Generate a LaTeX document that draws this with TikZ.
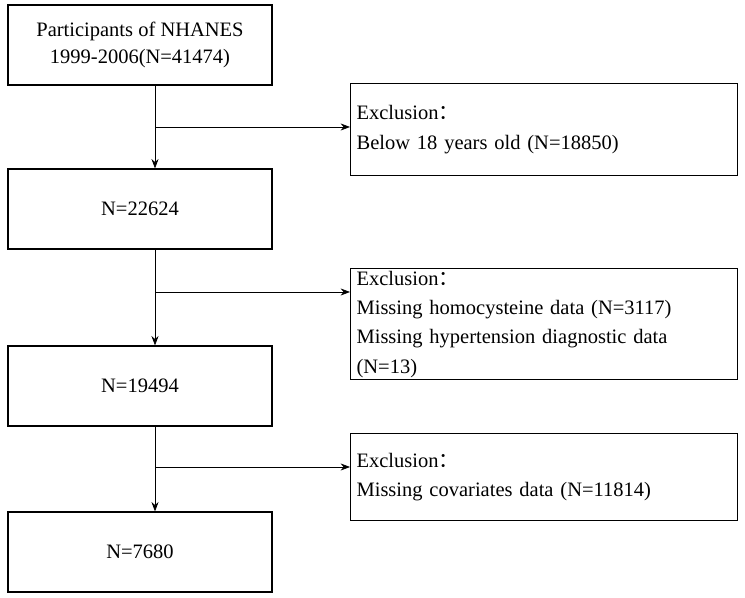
\documentclass[tikz,border=0pt]{standalone}
\usepackage{fontspec}
\usetikzlibrary{arrows.meta}
\setmainfont{Liberation Serif}
\newfontfamily\cjk{Noto Sans CJK SC}
\begin{document}
\begin{tikzpicture}[x=0.03cm,y=-0.03cm,
  thick,main node/.style={draw,line width=1pt,minimum width=264*0.03cm,minimum height=80*0.03cm,align=center,font=\fontsize{17.5}{23}\selectfont},
  excl node/.style={draw,line width=1pt,minimum width=387*0.03cm,align=left,text width=375*0.03cm,inner sep=2pt,font=\fontsize{17.5}{25}\selectfont,anchor=north west},
  arr/.style={-{Stealth[length=8pt,width=6pt]},line width=0.6pt}]
  \useasboundingbox (0,0) rectangle (745,598);

  \node[main node] (p) at (140,45){Participants of NHANES\\1999-2006(N=41474)};
  \node[main node] (a) at (140,209){N=22624};
  \node[main node] (b) at (140,386){N=19494};
  \node[main node] (c) at (140,552){N=7680};

  \node[excl node,minimum height=92*0.03cm] (e1) at (350,83){Exclusion{\cjk ：}\\Below 18 years old (N=18850)};
  \node[excl node,minimum height=85*0.03cm] (e2) at (350,268){Exclusion{\cjk ：}\\Missing homocysteine data (N=3117)\\Missing hypertension diagnostic data\\(N=13)};
  \node[excl node,minimum height=87*0.03cm] (e3) at (350,433){Exclusion{\cjk ：}\\Missing covariates data (N=11814)};

  \coordinate (j1) at (155,127);
  \coordinate (j2) at (155,292);
  \coordinate (j3) at (155,467);

  \draw[arr] (p.south -| j1) -- (a.north -| j1);
  \draw[arr] (a.south -| j2) -- (b.north -| j2);
  \draw[arr] (b.south -| j3) -- (c.north -| j3);
  \draw[arr] (j1) -- (e1.west |- j1);
  \draw[arr] (j2) -- (e2.west |- j2);
  \draw[arr] (j3) -- (e3.west |- j3);
\end{tikzpicture}
\end{document}
